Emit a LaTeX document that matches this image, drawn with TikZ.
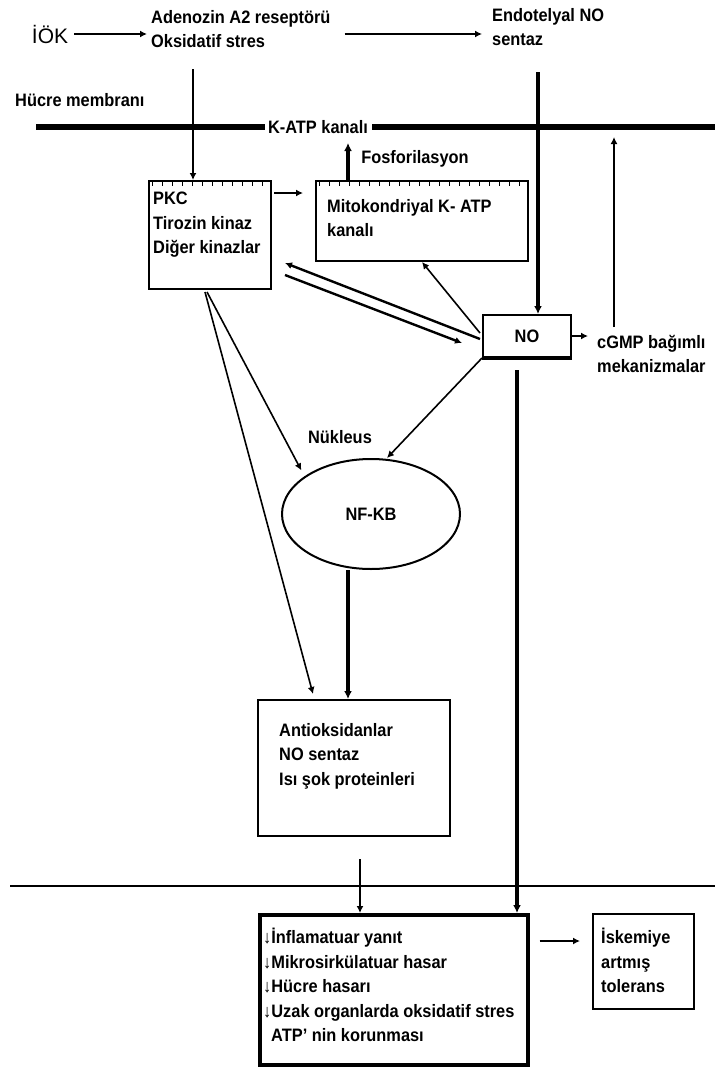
\documentclass[tikz,border=0pt]{standalone}
\usepackage{fontspec}
\setmainfont{Liberation Sans}[FakeStretch=0.91]
\newfontfamily\genis{Liberation Sans}
\usetikzlibrary{arrows.meta,shapes.geometric}

\begin{document}
\begin{tikzpicture}[x=1pt,y=-1pt]
    \tikzstyle{every node}+=[inner sep=0pt, font=\fontsize{18}{24.5}\selectfont\bfseries]
    \tikzstyle{kutu}=[draw, line width=2pt, anchor=north west]
    \tikzstyle{yazi}=[anchor=north west, align=left]
    \tikzstyle{ince}=[line width=1.6pt, -{Latex[length=7pt,width=7pt]}]
    \tikzstyle{kalin}=[line width=3.5pt, -{Latex[length=8pt,width=8pt]}]
    \tikzstyle{tik}=[line width=4pt, dash pattern=on 1pt off 9pt]
    \fill [white] (0,0) rectangle (715,1068);
    \useasboundingbox (0,0) rectangle (715,1068);
    % ust satir
    \node [font=\genis\fontsize{21}{21}\selectfont] (iok) at (50,34) {İÖK};
    \node [yazi] (adenozin) at (151,10) {Adenozin A2 reseptörü\\Oksidatif stres};
    \node [yazi] (enos) at (492,8) {Endotelyal NO\\sentaz};
    \node [yazi] (hucre) at (15,93) {Hücre membranı};
    \node (katp) at (318,127) {K-ATP kanalı};
    \draw [line width=6.5pt] (36,127) -- ([xshift=-3pt]katp.west);
    \draw [line width=6.5pt] ([xshift=4pt]katp.east) -- (715,127);
    % kutular
    \node [kutu, minimum width=122, minimum height=108] (pkc) at (148,180) {};
    \node [yazi] (pkcyazi) at ([shift={(5,12)}]pkc.north west) {PKC\\Tirozin kinaz\\Diğer kinazlar};
    \node [kutu, minimum width=212, minimum height=80] (mito) at (315,180) {};
    \node [yazi] (mitoyazi) at ([shift={(12,19)}]mito.north west) {Mitokondriyal K- ATP\\kanalı};
    \draw [tik] ([shift={(4,4)}]pkc.north west) -- ([shift={(-2,4)}]pkc.north east);
    \draw [tik] ([shift={(4,4)}]mito.north west) -- ([shift={(-2,4)}]mito.north east);
    \node [kutu, minimum width=88, minimum height=42] (no) at (482,314) {NO};
    \draw [line width=4pt] (no.south west) -- (no.south east);
    \node [yazi] (cgmp) at (597,335) {cGMP bağımlı\\mekanizmalar};
    \node (fosyazi) at (415,159) {Fosforilasyon};
    \node (nukleus) at (340,437) {Nükleus};
    \node [draw, ellipse, line width=2pt, minimum width=178, minimum height=110] (nfkb) at (371,514) {NF-KB};
    \node [kutu, minimum width=192, minimum height=136] (antiok) at (257,699) {};
    \node [yazi] (antiokyazi) at ([shift={(22,24)}]antiok.north west) {Antioksidanlar\\NO sentaz\\Isı şok proteinleri};
    \draw [line width=1.6pt] (10,886) -- (715,886);
    \node [kutu, line width=3.5pt, minimum width=268, minimum height=150] (sonuc) at (258,913) {};
    \node [yazi] (sonucyazi) at ([shift={(5,15)}]sonuc.north west) {↓İnflamatuar yanıt\\↓Mikrosirkülatuar hasar\\↓Hücre hasarı\\↓Uzak organlarda oksidatif stres\\\hspace{8pt}ATP' nin korunması};
    \node [kutu, minimum width=101, minimum height=95] (tolerans) at (592,913) {};
    \node [yazi] (tolyazi) at ([shift={(9,15)}]tolerans.north west) {İskemiye\\artmış\\tolerans};
    % oklar
    \coordinate (adalt) at (193,69);
    \coordinate (enalt) at (538,72);
    \coordinate (fos) at (348,143);
    \coordinate (cgust) at (614,137);
    \draw [ince] ([xshift=6pt]iok.east) -- ([xshift=-4pt]adenozin.west |- iok);
    \draw [ince] ([xshift=14pt]adenozin.east |- iok) -- ([xshift=-10pt]enos.west |- iok);
    \draw [ince] (adalt) -- (adalt |- pkc.north);
    \draw [kalin] (enalt) -- (enalt |- no.north);
    \draw [kalin] (fos |- mito.north) -- (fos);
    \draw [ince] ([shift={(2,13)}]pkc.north east) -- ([shift={(-12,13)}]mito.north west);
    \draw [ince, line width=2.4pt] ([shift={(-2,3)}]no.west) -- ([shift={(13,-27)}]pkc.south east);
    \draw [ince, line width=2.4pt] ([shift={(13,-15)}]pkc.south east) -- ([shift={(-20,7)}]no.west);
    \draw [ince] ([shift={(-2,-3)}]no.west) -- (mito.south);
    \draw [ince] (no.south west) -- ([xshift=16pt]nfkb.north);
    \draw [kalin] ([shift={(-10,12)}]no.south) -- ([shift={(-10,0)}]no.south |- sonuc.north);
    \draw [ince] (no.east) -- ([xshift=-9pt]cgmp.west |- no.east);
    \draw [ince] ([shift={(0,-8)}]cgmp.north -| cgust) -- (cgust);
    \draw [ince] ([shift={(-3,2)}]pkc.south) -- ([shift={(-6,-4)}]nfkb.north west);
    \draw [ince] ([shift={(-5,2)}]pkc.south) -- ([shift={(56,-5)}]antiok.north west);
    \draw [kalin] ([xshift=-23pt]nfkb.south) -- ([xshift=-23pt]nfkb.south |- antiok.north);
    \draw [ince] ([shift={(6,22)}]antiok.south) -- ([xshift=6pt]antiok.south |- sonuc.north);
    \draw [ince] ([shift={(10,28)}]sonuc.north east) -- ([shift={(-12,28)}]tolerans.north west);
\end{tikzpicture}
\end{document}
